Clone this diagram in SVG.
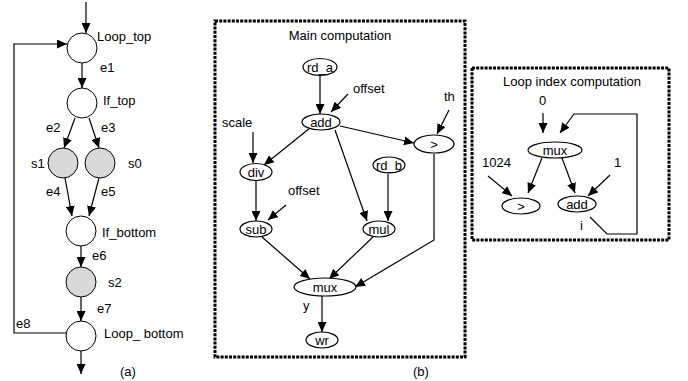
<svg xmlns="http://www.w3.org/2000/svg" width="688" height="381" viewBox="0 0 688 381">
<style>
text{font-family:"Liberation Sans",Arial,sans-serif;font-size:13px;fill:#000}
.c{fill:#fff;stroke:#000;stroke-width:1}
.g{fill:#d9d9d9;stroke:#000;stroke-width:1}
.e{fill:#fff;stroke:#000;stroke-width:1.2}
.m{text-anchor:middle}
.ln{fill:none;stroke:#000;stroke-width:1.2}
.a{fill:none;stroke:#000;stroke-width:1.2;marker-end:url(#ah)}
.box{fill:none;stroke:#000;stroke-width:3;stroke-dasharray:3 1.2}
</style>
<defs>
<marker id="ah" viewBox="0 0 10 9" refX="10" refY="4.5" markerWidth="10" markerHeight="9" orient="auto" markerUnits="userSpaceOnUse">
<path d="M0,0 L10,4.5 L0,9 z" fill="#000"/>
</marker>
</defs>
<rect width="688" height="381" fill="#fff"/>

<!-- (a) control flow graph -->
<g id="connectors-a">
<line class="a" x1="86" y1="2" x2="86" y2="33"/>
<line class="a" x1="82" y1="63" x2="82" y2="88"/>
<line class="a" x1="75" y1="118" x2="64" y2="148"/>
<line class="a" x1="89" y1="118" x2="99" y2="148"/>
<line class="a" x1="65" y1="178" x2="72" y2="216"/>
<line class="a" x1="99" y1="178" x2="89" y2="216"/>
<line class="a" x1="81" y1="246" x2="81" y2="267"/>
<line class="a" x1="81" y1="297" x2="81" y2="321"/>
<line class="a" x1="81" y1="351" x2="81" y2="374"/>
<polyline class="a" points="66,333 14,333 14,44 67,44"/>
</g>
<g id="Loop_top"><circle class="c" cx="82" cy="48" r="15"/><text x="97" y="41">Loop_top</text></g>
<g id="If_top"><circle class="c" cx="82" cy="103" r="15"/><text x="103" y="105">If_top</text></g>
<g id="s1"><circle class="g" cx="63" cy="163" r="15"/><text x="31" y="168">s1</text></g>
<g id="s0"><circle class="g" cx="100" cy="163" r="15"/><text x="128" y="168">s0</text></g>
<g id="If_bottom"><circle class="c" cx="81" cy="231" r="15"/><text x="102" y="237">If_bottom</text></g>
<g id="s2"><circle class="g" cx="81" cy="282" r="15"/><text x="108" y="287">s2</text></g>
<g id="Loop_bottom"><circle class="c" cx="81" cy="336" r="15"/><text x="104" y="338">Loop_ bottom</text></g>
<g id="edge-labels-a">
<text x="100" y="72">e1</text>
<text x="46" y="132">e2</text>
<text x="101" y="132">e3</text>
<text x="46" y="196">e4</text>
<text x="101" y="196">e5</text>
<text x="92" y="260">e6</text>
<text x="97" y="313">e7</text>
<text x="16" y="328">e8</text>
<text x="120" y="376">(a)</text>
</g>

<!-- (b) main computation -->
<g id="main-box"><rect class="box" x="215" y="21" width="250" height="336"/><text class="m" x="340" y="40">Main computation</text></g>
<g id="connectors-b">
<line class="a" x1="320" y1="76" x2="320" y2="114"/>
<line class="a" x1="348" y1="94" x2="331" y2="112"/>
<line class="a" x1="449" y1="110" x2="437" y2="134"/>
<line class="a" x1="253" y1="132" x2="253" y2="163"/>
<line class="a" x1="310" y1="128" x2="264" y2="165"/>
<line class="a" x1="340" y1="126" x2="414" y2="143"/>
<line class="a" x1="335" y1="130" x2="367" y2="221"/>
<line class="a" x1="388" y1="174" x2="388" y2="221"/>
<line class="a" x1="256" y1="181" x2="256" y2="221"/>
<line class="a" x1="286" y1="205" x2="268" y2="220"/>
<line class="a" x1="262" y1="237" x2="310" y2="279"/>
<line class="a" x1="373" y1="237" x2="329" y2="279"/>
<polyline class="a" points="434,154 434,240 355,287"/>
<line class="a" x1="322" y1="296" x2="322" y2="332"/>
</g>
<g id="rd_a"><ellipse class="e" cx="320" cy="67" rx="17" ry="8.5"/><text class="m" x="320" y="72">rd_a</text></g>
<g id="add"><ellipse class="e" cx="321" cy="122" rx="19" ry="8"/><text class="m" x="321" y="127">add</text></g>
<g id="gt"><ellipse class="e" cx="434" cy="144" rx="20" ry="9"/><text class="m" x="434" y="149">&gt;</text></g>
<g id="div"><ellipse class="e" cx="256" cy="172" rx="16" ry="8.5"/><text class="m" x="256" y="177">div</text></g>
<g id="rd_b"><ellipse class="e" cx="389" cy="165" rx="16" ry="8"/><text class="m" x="389" y="170">rd_b</text></g>
<g id="sub"><ellipse class="e" cx="256" cy="229" rx="16" ry="8"/><text class="m" x="256" y="234">sub</text></g>
<g id="mul"><ellipse class="e" cx="379" cy="229" rx="16" ry="8"/><text class="m" x="379" y="234">mul</text></g>
<g id="mux"><ellipse class="e" cx="325" cy="287" rx="31" ry="9"/><text class="m" x="325" y="292">mux</text></g>
<g id="wr"><ellipse class="e" cx="322" cy="340" rx="16" ry="8"/><text class="m" x="322" y="345">wr</text></g>
<g id="labels-b">
<text x="353" y="93">offset</text>
<text x="444" y="101">th</text>
<text x="222" y="127">scale</text>
<text x="288" y="195">offset</text>
<text x="303" y="310">y</text>
<text x="413" y="376">(b)</text>
</g>

<!-- loop index computation -->
<g id="loop-box"><rect class="box" x="472" y="68" width="197" height="172"/><text class="m" x="572" y="86">Loop index computation</text></g>
<g id="connectors-c">
<line class="a" x1="543" y1="113" x2="543" y2="133"/>
<polyline class="a" points="590,217 607,234 637,234 637,114 574,114 560,133"/>
<line class="a" x1="542" y1="158" x2="528" y2="193"/>
<line class="a" x1="562" y1="158" x2="575" y2="193"/>
<line class="a" x1="488" y1="176" x2="512" y2="196"/>
<line class="a" x1="610" y1="175" x2="588" y2="196"/>
</g>
<g id="mux2"><ellipse class="e" cx="555" cy="150" rx="27" ry="8"/><text class="m" x="555" y="155">mux</text></g>
<g id="gt2"><ellipse class="e" cx="521" cy="206" rx="19" ry="8"/><text class="m" x="521" y="211">&gt;</text></g>
<g id="add2"><ellipse class="e" cx="577" cy="204" rx="19" ry="8"/><text class="m" x="577" y="209">add</text></g>
<g id="labels-c">
<text x="539" y="105">0</text>
<text x="482" y="167">1024</text>
<text x="614" y="167">1</text>
<text x="580" y="230">i</text>
</g>
</svg>
